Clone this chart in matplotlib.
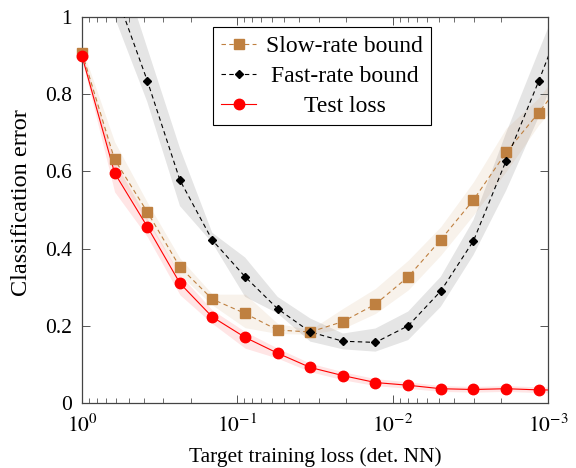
import matplotlib
matplotlib.use("Agg")
import matplotlib.pyplot as plt
import numpy as np

plt.rcParams['font.family'] = ['Liberation Serif', 'DejaVu Serif']
plt.rcParams['mathtext.fontset'] = 'stix'

# Target training loss (x)
target_loss = [1.0, 0.617, 0.38, 0.234, 0.145, 0.0891, 0.0550, 0.0339, 0.0209,
               0.0129, 0.00794, 0.00490, 0.00302, 0.00186, 0.00115, 0.00071]

slow_mean = [0.908, 0.631, 0.495, 0.352, 0.269, 0.232, 0.189, 0.184, 0.211, 0.256,
             0.327, 0.423, 0.526, 0.649, 0.752, 0.86]
slow_upper = [0.92, 0.677, 0.52, 0.375, 0.282, 0.282, 0.206, 0.19, 0.245, 0.297,
              0.370, 0.457, 0.573, 0.712, 0.79, 0.90]
slow_lower = [0.895, 0.599, 0.47, 0.332, 0.254, 0.195, 0.18, 0.178, 0.193, 0.232,
              0.293, 0.383, 0.487, 0.60, 0.72, 0.82]

fast_mean = [1.40, 1.07, 0.835, 0.577, 0.422, 0.327, 0.244, 0.184, 0.160, 0.157,
             0.200, 0.290, 0.420, 0.628, 0.833, 1.05]
fast_upper = [1.50, 1.18, 0.92, 0.66, 0.441, 0.377, 0.275, 0.219, 0.180, 0.193,
              0.237, 0.327, 0.474, 0.70, 0.91, 1.12]
fast_lower = [1.30, 1.00, 0.78, 0.51, 0.415, 0.275, 0.232, 0.159, 0.139, 0.133,
              0.163, 0.249, 0.383, 0.55, 0.74, 0.95]

test_mean = [0.899, 0.596, 0.457, 0.310, 0.223, 0.170, 0.129, 0.092, 0.071, 0.053,
             0.046, 0.037, 0.035, 0.037, 0.034, 0.033]
test_upper = [0.91, 0.625, 0.478, 0.332, 0.241, 0.185, 0.142, 0.103, 0.081, 0.063,
              0.055, 0.045, 0.043, 0.045, 0.042, 0.041]
test_lower = [0.89, 0.547, 0.431, 0.28, 0.206, 0.142, 0.116, 0.081, 0.06, 0.045,
              0.038, 0.03, 0.028, 0.03, 0.027, 0.026]

x = np.array(target_loss)
brown = (0.75, 0.5, 0.25)
FS = 15.5
LFS = 17
YFS = 17.5

fig = plt.figure(figsize=(5.76, 4.68), dpi=100)
ax = fig.add_axes([82/576, 1-403/468, (548-82)/576, (403-17)/468])
ax.set_xscale('log')

# bands
ax.fill_between(x, fast_lower, fast_upper, color='black', alpha=0.1, lw=0, zorder=1)
ax.fill_between(x, slow_lower, slow_upper, color=brown, alpha=0.1, lw=0, zorder=1)
ax.fill_between(x, test_lower, test_upper, color='red', alpha=0.1, lw=0, zorder=1)

inr = (x >= 0.001 - 1e-9)

def series(y, color, ls, marker, ms, label):
    y = np.array(y)
    ax.plot(x, y, color=color, ls=ls, lw=0.8, zorder=3)
    m = inr & (y <= 1.0)
    ax.plot(x[m], y[m], ls='none', marker=marker, ms=ms, color=color,
            mec=color, clip_on=False, zorder=4)
    ax.plot([], [], color=color, ls=ls, lw=0.8, marker=marker, ms=ms, label=label)

series(slow_mean, brown, (0, (4, 3)), 's', 7, 'Slow-rate bound')
series(fast_mean, 'black', (0, (4, 3)), 'D', 4.5, 'Fast-rate bound')
series(test_mean, 'red', '-', 'o', 7.5, 'Test loss')

ax.set_xlim(1, 1e-3)
ax.set_ylim(0, 1)
ax.set_yticks([0, 0.2, 0.4, 0.6, 0.8, 1.0])
ax.set_yticklabels(['0', '0.2', '0.4', '0.6', '0.8', '1'])
ax.set_xticks([1, 0.1, 0.01, 0.001])
ax.set_xticklabels([r'$10^{0}$', r'$10^{-1}$', r'$10^{-2}$', r'$10^{-3}$'])

for s in ax.spines.values():
    s.set_color('#444444')
    s.set_linewidth(0.9)
ax.tick_params(which='both', direction='in', top=True, right=True, color='#555555',
               labelsize=FS)
ax.tick_params(axis='y', pad=7)
ax.tick_params(axis='x', pad=8)
ax.tick_params(which='major', length=6, width=0.7)
ax.tick_params(which='minor', length=3.5, width=0.6)

ax.set_xlabel('Target training loss (det. NN)', fontsize=FS, labelpad=8)
ax.set_ylabel('Classification error', fontsize=YFS)
ax.yaxis.set_label_coords(-0.108, 0.52)

leg = ax.legend(loc='upper left', bbox_to_anchor=((212.7-82)/466, 1-(27.3-17)/386),
                fontsize=LFS, frameon=True, fancybox=False, edgecolor='black',
                framealpha=1, handlelength=1.5, borderpad=0.35, labelspacing=0.36,
                handletextpad=0.42, borderaxespad=0)
leg.get_frame().set_linewidth(0.8)
fig.canvas.draw()
r = fig.canvas.get_renderer()
widths = [t.get_window_extent(r).width for t in leg.get_texts()]
w = max(widths)
for t, wi in zip(leg.get_texts(), widths):
    t.set_position(((w - wi) / 2, 0))

fig.savefig('out.png', dpi=100)
